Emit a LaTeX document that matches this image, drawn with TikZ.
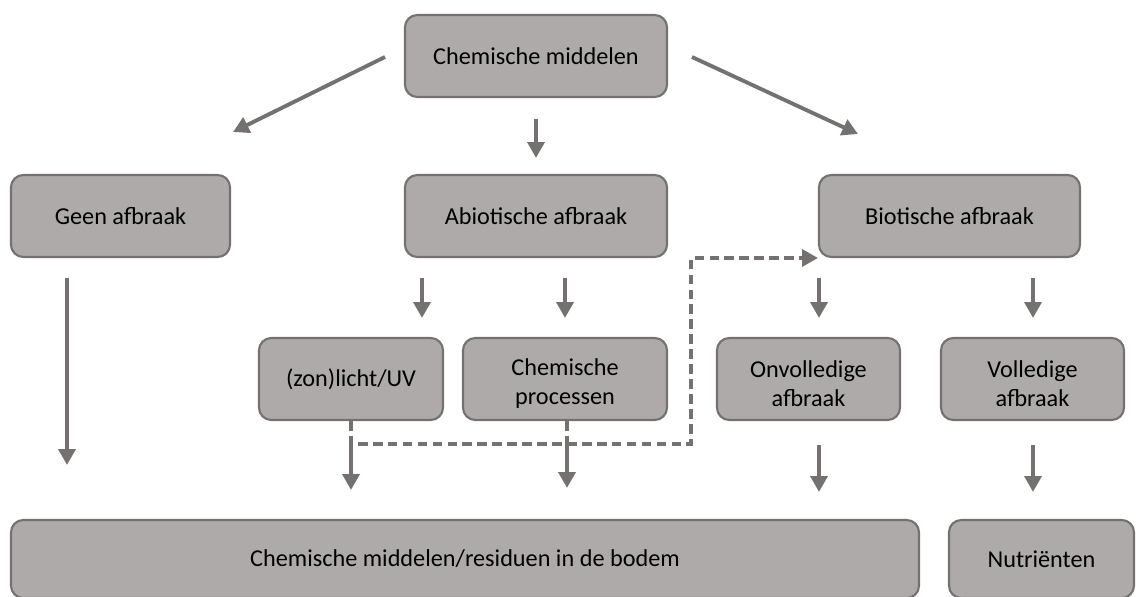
\documentclass[tikz,border=0pt]{standalone}
\usepackage{fontspec}
\setmainfont{Carlito}
\usetikzlibrary{arrows.meta}
\definecolor{boxfill}{RGB}{174,170,169}
\definecolor{boxline}{RGB}{118,113,113}
\newcommand{\lowstrut}{\rule{0pt}{14.5pt}}
\begin{document}
\begin{tikzpicture}[x=0.02cm,y=-0.02cm,
  box/.style={draw=boxline,fill=boxfill,line width=1.2pt,rounded corners=7pt,inner sep=0pt,align=center,font=\fontsize{13.8}{16.5}\selectfont},
  arr/.style={draw=boxline,line width=2.2pt,-{Triangle[length=9pt,width=9.5pt]}},
  darr/.style={draw=boxline,line width=2.2pt,dash pattern=on 5.5pt off 3pt},
]
\useasboundingbox (0,0) rectangle (1136,597);
\node[box,minimum width=262*0.02cm,minimum height=82*0.02cm] (cm) at (536,56) {Chemische middelen};
\node[box,minimum width=219*0.02cm,minimum height=82*0.02cm] (geen) at (120.5,216) {Geen afbraak};
\node[box,minimum width=262*0.02cm,minimum height=82*0.02cm] (abio) at (536,216) {Abiotische afbraak};
\node[box,minimum width=261*0.02cm,minimum height=82*0.02cm] (bio) at (949.5,216) {Biotische afbraak};
\node[box,minimum width=184*0.02cm,minimum height=82*0.02cm] (uv) at (351,379) {(zon)licht/UV};
\node[box,minimum width=204*0.02cm,minimum height=82*0.02cm] (chp) at (565,379) {\lowstrut Chemische\\processen};
\node[box,minimum width=183*0.02cm,minimum height=82*0.02cm] (onv) at (808.5,379) {\lowstrut Onvolledige\\afbraak};
\node[box,minimum width=183*0.02cm,minimum height=82*0.02cm] (vol) at (1032.5,379) {\lowstrut Volledige\\afbraak};
\node[box,minimum width=908*0.02cm,minimum height=78*0.02cm] (res) at (465,559) {Chemische middelen/residuen in de bodem};
\node[box,minimum width=185*0.02cm,minimum height=78*0.02cm] (nut) at (1041.5,559) {Nutriënten};
% arrows from top
\coordinate (a1s) at (385,57); \coordinate (a1e) at (233,132);
\coordinate (a2s) at (536,119); \coordinate (a2e) at (536,158);
\coordinate (a3s) at (692,57); \coordinate (a3e) at (858,134);
\draw[arr] (a1s) -- (a1e);
\draw[arr] (a2s) -- (a2e);
\draw[arr] (a3s) -- (a3e);
% geen afbraak
\draw[arr] (67,278) -- (67,465);
% abiotic
\draw[arr] (422,278) -- (422,318);
\draw[arr] (565,278) -- (565,318);
% biotic
\draw[arr] (819,278) -- (819,318);
\draw[arr] (1033,278) -- (1033,318);
% dashed
\draw[darr] (uv.south -| 351,0) -- (351,444) -- (691,444) -- (691,258) -- (805,258);
\draw[draw=boxline,-{Triangle[length=9pt,width=9.5pt]},line width=2.2pt] (800,258) -- (818,258);
\draw[darr] (chp.south -| 567,0) -- (567,444);
% lower arrows
\draw[arr] (351,444) -- (351,490);
\draw[arr] (567,444) -- (567,488);
\draw[arr] (819,445) -- (819,492);
\draw[arr] (1033,445) -- (1033,492);
\end{tikzpicture}
\end{document}
